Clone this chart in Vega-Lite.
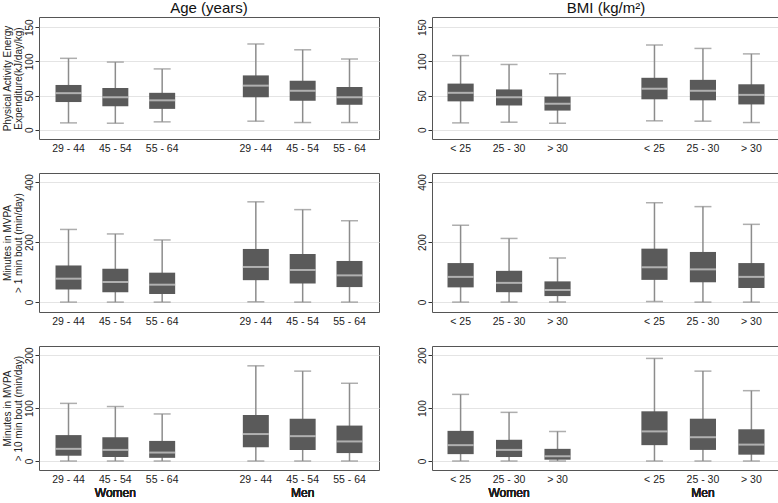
{
  "$schema": "https://vega.github.io/schema/vega-lite/v6.json",
  "background": "white",
  "padding": {"left": 1, "top": 0, "right": 0, "bottom": 0},
  "config": {
    "font": "Liberation Sans",
    "view": {"stroke": "#555555", "strokeWidth": 1},
    "title": {"fontSize": 15, "fontWeight": "normal", "color": "#111111", "offset": 1},
    "axisY": {
      "labelAngle": 270, "labelAlign": "center", "labelBaseline": "bottom",
      "labelFontSize": 10, "labelColor": "#222222", "labelPadding": 1,
      "tickSize": 4, "tickColor": "#333333", "domain": false,
      "gridColor": "#e4e4e4", "gridWidth": 1,
      "titleFontSize": 10, "titleLineHeight": 11, "titleFontWeight": "normal", "titleColor": "#222222", "titlePadding": 1
    },
    "axisX": {"labelFontSize": 10.5, "labelColor": "#222222", "labelAngle": 0, "ticks": false, "domain": false, "labelPadding": 4, "title": null, "grid": false,
      "labelExpr": "indexof(datum.label, '|') > 0 ? slice(datum.label, indexof(datum.label, '|') + 1) : ''"}
  },
  "datasets": {
    "boxes": [
      {"measure": "PAEE", "factor": "Age", "sex": "Women", "group": "29 - 44", "lo": 10, "q1": 40.5, "med": 53.5, "q3": 65.5, "hi": 104.5},
      {"measure": "PAEE", "factor": "Age", "sex": "Women", "group": "45 - 54", "lo": 9.5, "q1": 34.5, "med": 47.5, "q3": 61, "hi": 99},
      {"measure": "PAEE", "factor": "Age", "sex": "Women", "group": "55 - 64", "lo": 11.5, "q1": 30.5, "med": 43, "q3": 54, "hi": 89},
      {"measure": "PAEE", "factor": "Age", "sex": "Men", "group": "29 - 44", "lo": 12.5, "q1": 47.5, "med": 64.5, "q3": 79.5, "hi": 125.5},
      {"measure": "PAEE", "factor": "Age", "sex": "Men", "group": "45 - 54", "lo": 10.5, "q1": 42.5, "med": 57, "q3": 71.5, "hi": 117},
      {"measure": "PAEE", "factor": "Age", "sex": "Men", "group": "55 - 64", "lo": 10.5, "q1": 36.5, "med": 47.5, "q3": 62.5, "hi": 103.5},
      {"measure": "PAEE", "factor": "BMI", "sex": "Women", "group": "< 25", "lo": 10, "q1": 41.5, "med": 54, "q3": 67.5, "hi": 108.5},
      {"measure": "PAEE", "factor": "BMI", "sex": "Women", "group": "25 - 30", "lo": 11, "q1": 35.5, "med": 47.5, "q3": 59, "hi": 95.5},
      {"measure": "PAEE", "factor": "BMI", "sex": "Women", "group": "> 30", "lo": 9.5, "q1": 28, "med": 38, "q3": 48.5, "hi": 82},
      {"measure": "PAEE", "factor": "BMI", "sex": "Men", "group": "< 25", "lo": 13, "q1": 44.5, "med": 60, "q3": 76, "hi": 124},
      {"measure": "PAEE", "factor": "BMI", "sex": "Men", "group": "25 - 30", "lo": 12.5, "q1": 43, "med": 57, "q3": 73, "hi": 119},
      {"measure": "PAEE", "factor": "BMI", "sex": "Men", "group": "> 30", "lo": 10.5, "q1": 37, "med": 51, "q3": 66.5, "hi": 111},
      {"measure": "MVPA1", "factor": "Age", "sex": "Women", "group": "29 - 44", "lo": 0, "q1": 42, "med": 78, "q3": 122, "hi": 242},
      {"measure": "MVPA1", "factor": "Age", "sex": "Women", "group": "45 - 54", "lo": 0, "q1": 33, "med": 67, "q3": 111, "hi": 227},
      {"measure": "MVPA1", "factor": "Age", "sex": "Women", "group": "55 - 64", "lo": 0, "q1": 27, "med": 58, "q3": 98, "hi": 207},
      {"measure": "MVPA1", "factor": "Age", "sex": "Men", "group": "29 - 44", "lo": 1, "q1": 73, "med": 117, "q3": 177, "hi": 334},
      {"measure": "MVPA1", "factor": "Age", "sex": "Men", "group": "45 - 54", "lo": 0, "q1": 62, "med": 107, "q3": 160, "hi": 308},
      {"measure": "MVPA1", "factor": "Age", "sex": "Men", "group": "55 - 64", "lo": 0, "q1": 50, "med": 89, "q3": 137, "hi": 271},
      {"measure": "MVPA1", "factor": "BMI", "sex": "Women", "group": "< 25", "lo": 0, "q1": 49, "med": 84, "q3": 130, "hi": 256},
      {"measure": "MVPA1", "factor": "BMI", "sex": "Women", "group": "25 - 30", "lo": 0, "q1": 33, "med": 64, "q3": 104, "hi": 212},
      {"measure": "MVPA1", "factor": "BMI", "sex": "Women", "group": "> 30", "lo": 0, "q1": 20, "med": 40, "q3": 69, "hi": 147},
      {"measure": "MVPA1", "factor": "BMI", "sex": "Men", "group": "< 25", "lo": 2, "q1": 74, "med": 116, "q3": 178, "hi": 331},
      {"measure": "MVPA1", "factor": "BMI", "sex": "Men", "group": "25 - 30", "lo": 0, "q1": 66, "med": 109, "q3": 167, "hi": 318},
      {"measure": "MVPA1", "factor": "BMI", "sex": "Men", "group": "> 30", "lo": 0, "q1": 47, "med": 84, "q3": 130, "hi": 259},
      {"measure": "MVPA10", "factor": "Age", "sex": "Women", "group": "29 - 44", "lo": 0, "q1": 10, "med": 23, "q3": 49, "hi": 109},
      {"measure": "MVPA10", "factor": "Age", "sex": "Women", "group": "45 - 54", "lo": 0, "q1": 7.5, "med": 21, "q3": 45, "hi": 103},
      {"measure": "MVPA10", "factor": "Age", "sex": "Women", "group": "55 - 64", "lo": 0, "q1": 6, "med": 16, "q3": 38, "hi": 89},
      {"measure": "MVPA10", "factor": "Age", "sex": "Men", "group": "29 - 44", "lo": 0, "q1": 26, "med": 51, "q3": 87, "hi": 180},
      {"measure": "MVPA10", "factor": "Age", "sex": "Men", "group": "45 - 54", "lo": 0, "q1": 21, "med": 47, "q3": 80, "hi": 170},
      {"measure": "MVPA10", "factor": "Age", "sex": "Men", "group": "55 - 64", "lo": 0, "q1": 15, "med": 37, "q3": 67, "hi": 147},
      {"measure": "MVPA10", "factor": "BMI", "sex": "Women", "group": "< 25", "lo": 0, "q1": 13, "med": 30, "q3": 57, "hi": 126},
      {"measure": "MVPA10", "factor": "BMI", "sex": "Women", "group": "25 - 30", "lo": 0, "q1": 7.5, "med": 21, "q3": 40, "hi": 92},
      {"measure": "MVPA10", "factor": "BMI", "sex": "Women", "group": "> 30", "lo": 0, "q1": 2.5, "med": 9, "q3": 23, "hi": 56},
      {"measure": "MVPA10", "factor": "BMI", "sex": "Men", "group": "< 25", "lo": 0, "q1": 30, "med": 56, "q3": 94, "hi": 194},
      {"measure": "MVPA10", "factor": "BMI", "sex": "Men", "group": "25 - 30", "lo": 0, "q1": 21, "med": 45, "q3": 80, "hi": 170},
      {"measure": "MVPA10", "factor": "BMI", "sex": "Men", "group": "> 30", "lo": 0, "q1": 12, "med": 31, "q3": 60, "hi": 133}
    ]
  },
  "spacing": 18,
  "vconcat": [
    {
      "spacing": 36,
      "hconcat": [
        {
          "width": 340, "height": 122,
          "title": "Age (years)",
          "data": {"name": "boxes"},
          "transform": [{"filter": "datum.measure === 'PAEE' && datum.factor === 'Age'"}, {"calculate": "datum.sex + '|' + datum.group", "as": "slot"}],
          "encoding": {
            "x": {"field": "slot", "type": "nominal", "scale": {"type": "band", "domain": ["Women|29 - 44", "Women|45 - 54", "Women|55 - 64", "gap", "Men|29 - 44", "Men|45 - 54", "Men|55 - 64"], "paddingInner": 0, "paddingOuter": 0.13}}
          },
          "layer": [
            {"mark": {"type": "rule", "color": "#8c8c8c", "strokeWidth": 1.5}, "encoding": {"y": {"field": "lo", "type": "quantitative", "scale": {"domain": [-13.6, 165], "nice": false, "zero": false}, "axis": {"values": [0, 50, 100, 150], "title": ["Physical Activity Energy", "Expenditure(kJ/day/kg)"]}}, "y2": {"field": "hi"}}},
            {"mark": {"type": "tick", "color": "#8c8c8c", "size": 17, "thickness": 1.5}, "encoding": {"y": {"field": "lo", "type": "quantitative"}}},
            {"mark": {"type": "tick", "color": "#8c8c8c", "size": 17, "thickness": 1.5}, "encoding": {"y": {"field": "hi", "type": "quantitative"}}},
            {"mark": {"type": "bar", "color": "#5a5a5a", "width": {"band": 0.555}}, "encoding": {"y": {"field": "q1", "type": "quantitative"}, "y2": {"field": "q3"}}},
            {"mark": {"type": "tick", "color": "#d4d4d4", "size": 26, "thickness": 2}, "encoding": {"y": {"field": "med", "type": "quantitative"}}}
          ]
        },
        {
          "width": 348, "height": 122,
          "title": "BMI (kg/m²)",
          "data": {"name": "boxes"},
          "transform": [{"filter": "datum.measure === 'PAEE' && datum.factor === 'BMI'"}, {"calculate": "datum.sex + '|' + datum.group", "as": "slot"}],
          "encoding": {
            "x": {"field": "slot", "type": "nominal", "scale": {"type": "band", "domain": ["Women|< 25", "Women|25 - 30", "Women|> 30", "gap", "Men|< 25", "Men|25 - 30", "Men|> 30"], "paddingInner": 0, "paddingOuter": 0.09}}
          },
          "layer": [
            {"mark": {"type": "rule", "color": "#8c8c8c", "strokeWidth": 1.5}, "encoding": {"y": {"field": "lo", "type": "quantitative", "scale": {"domain": [-13.6, 165], "nice": false, "zero": false}, "axis": {"values": [0, 50, 100, 150], "title": null}}, "y2": {"field": "hi"}}},
            {"mark": {"type": "tick", "color": "#8c8c8c", "size": 17, "thickness": 1.5}, "encoding": {"y": {"field": "lo", "type": "quantitative"}}},
            {"mark": {"type": "tick", "color": "#8c8c8c", "size": 17, "thickness": 1.5}, "encoding": {"y": {"field": "hi", "type": "quantitative"}}},
            {"mark": {"type": "bar", "color": "#5a5a5a", "width": {"band": 0.54}}, "encoding": {"y": {"field": "q1", "type": "quantitative"}, "y2": {"field": "q3"}}},
            {"mark": {"type": "tick", "color": "#d4d4d4", "size": 26, "thickness": 2}, "encoding": {"y": {"field": "med", "type": "quantitative"}}}
          ]
        }
      ]
    },
    {
      "spacing": 36,
      "hconcat": [
        {
          "width": 340, "height": 139,
          "data": {"name": "boxes"},
          "transform": [{"filter": "datum.measure === 'MVPA1' && datum.factor === 'Age'"}, {"calculate": "datum.sex + '|' + datum.group", "as": "slot"}],
          "encoding": {
            "x": {"field": "slot", "type": "nominal", "scale": {"type": "band", "domain": ["Women|29 - 44", "Women|45 - 54", "Women|55 - 64", "gap", "Men|29 - 44", "Men|45 - 54", "Men|55 - 64"], "paddingInner": 0, "paddingOuter": 0.13}}
          },
          "layer": [
            {"mark": {"type": "rule", "color": "#8c8c8c", "strokeWidth": 1.5}, "encoding": {"y": {"field": "lo", "type": "quantitative", "scale": {"domain": [-33, 430], "nice": false, "zero": false}, "axis": {"values": [0, 100, 200, 300, 400], "title": ["Minutes in MVPA", "> 1 min bout (min/day)"]}}, "y2": {"field": "hi"}}},
            {"mark": {"type": "tick", "color": "#8c8c8c", "size": 17, "thickness": 1.5}, "encoding": {"y": {"field": "lo", "type": "quantitative"}}},
            {"mark": {"type": "tick", "color": "#8c8c8c", "size": 17, "thickness": 1.5}, "encoding": {"y": {"field": "hi", "type": "quantitative"}}},
            {"mark": {"type": "bar", "color": "#5a5a5a", "width": {"band": 0.555}}, "encoding": {"y": {"field": "q1", "type": "quantitative"}, "y2": {"field": "q3"}}},
            {"mark": {"type": "tick", "color": "#d4d4d4", "size": 26, "thickness": 2}, "encoding": {"y": {"field": "med", "type": "quantitative"}}}
          ]
        },
        {
          "width": 348, "height": 139,
          "data": {"name": "boxes"},
          "transform": [{"filter": "datum.measure === 'MVPA1' && datum.factor === 'BMI'"}, {"calculate": "datum.sex + '|' + datum.group", "as": "slot"}],
          "encoding": {
            "x": {"field": "slot", "type": "nominal", "scale": {"type": "band", "domain": ["Women|< 25", "Women|25 - 30", "Women|> 30", "gap", "Men|< 25", "Men|25 - 30", "Men|> 30"], "paddingInner": 0, "paddingOuter": 0.09}}
          },
          "layer": [
            {"mark": {"type": "rule", "color": "#8c8c8c", "strokeWidth": 1.5}, "encoding": {"y": {"field": "lo", "type": "quantitative", "scale": {"domain": [-33, 430], "nice": false, "zero": false}, "axis": {"values": [0, 100, 200, 300, 400], "title": null}}, "y2": {"field": "hi"}}},
            {"mark": {"type": "tick", "color": "#8c8c8c", "size": 17, "thickness": 1.5}, "encoding": {"y": {"field": "lo", "type": "quantitative"}}},
            {"mark": {"type": "tick", "color": "#8c8c8c", "size": 17, "thickness": 1.5}, "encoding": {"y": {"field": "hi", "type": "quantitative"}}},
            {"mark": {"type": "bar", "color": "#5a5a5a", "width": {"band": 0.54}}, "encoding": {"y": {"field": "q1", "type": "quantitative"}, "y2": {"field": "q3"}}},
            {"mark": {"type": "tick", "color": "#d4d4d4", "size": 26, "thickness": 2}, "encoding": {"y": {"field": "med", "type": "quantitative"}}}
          ]
        }
      ]
    },
    {
      "spacing": 36,
      "hconcat": [
        {
          "width": 340, "height": 124,
          "data": {"name": "boxes"},
          "transform": [{"filter": "datum.measure === 'MVPA10' && datum.factor === 'Age'"}, {"calculate": "datum.sex + '|' + datum.group", "as": "slot"}],
          "encoding": {
            "x": {"field": "slot", "type": "nominal", "scale": {"type": "band", "domain": ["Women|29 - 44", "Women|45 - 54", "Women|55 - 64", "gap", "Men|29 - 44", "Men|45 - 54", "Men|55 - 64"], "paddingInner": 0, "paddingOuter": 0.13}}
          },
          "layer": [
            {"mark": {"type": "rule", "color": "#8c8c8c", "strokeWidth": 1.5}, "encoding": {"y": {"field": "lo", "type": "quantitative", "scale": {"domain": [-17, 217.5], "nice": false, "zero": false}, "axis": {"values": [0, 50, 100, 150, 200], "title": ["Minutes in MVPA", "> 10 min bout (min/day)"]}}, "y2": {"field": "hi"}}},
            {"mark": {"type": "tick", "color": "#8c8c8c", "size": 17, "thickness": 1.5}, "encoding": {"y": {"field": "lo", "type": "quantitative"}}},
            {"mark": {"type": "tick", "color": "#8c8c8c", "size": 17, "thickness": 1.5}, "encoding": {"y": {"field": "hi", "type": "quantitative"}}},
            {"mark": {"type": "bar", "color": "#5a5a5a", "width": {"band": 0.555}}, "encoding": {"y": {"field": "q1", "type": "quantitative"}, "y2": {"field": "q3"}}},
            {"mark": {"type": "tick", "color": "#d4d4d4", "size": 26, "thickness": 2}, "encoding": {"y": {"field": "med", "type": "quantitative"}}},
            {"mark": {"type": "text", "baseline": "top", "dy": 18, "fontSize": 12, "fontWeight": "normal", "color": "#222222"}, "encoding": {"x": {"datum": "Women|45 - 54"}, "y": {"value": "height"}, "text": {"value": "Women"}}},
            {"mark": {"type": "text", "baseline": "top", "dy": 18, "fontSize": 12, "fontWeight": "normal", "color": "#222222"}, "encoding": {"x": {"datum": "Men|45 - 54"}, "y": {"value": "height"}, "text": {"value": "Men"}}}
          ]
        },
        {
          "width": 348, "height": 124,
          "data": {"name": "boxes"},
          "transform": [{"filter": "datum.measure === 'MVPA10' && datum.factor === 'BMI'"}, {"calculate": "datum.sex + '|' + datum.group", "as": "slot"}],
          "encoding": {
            "x": {"field": "slot", "type": "nominal", "scale": {"type": "band", "domain": ["Women|< 25", "Women|25 - 30", "Women|> 30", "gap", "Men|< 25", "Men|25 - 30", "Men|> 30"], "paddingInner": 0, "paddingOuter": 0.09}}
          },
          "layer": [
            {"mark": {"type": "rule", "color": "#8c8c8c", "strokeWidth": 1.5}, "encoding": {"y": {"field": "lo", "type": "quantitative", "scale": {"domain": [-17, 217.5], "nice": false, "zero": false}, "axis": {"values": [0, 50, 100, 150, 200], "title": null}}, "y2": {"field": "hi"}}},
            {"mark": {"type": "tick", "color": "#8c8c8c", "size": 17, "thickness": 1.5}, "encoding": {"y": {"field": "lo", "type": "quantitative"}}},
            {"mark": {"type": "tick", "color": "#8c8c8c", "size": 17, "thickness": 1.5}, "encoding": {"y": {"field": "hi", "type": "quantitative"}}},
            {"mark": {"type": "bar", "color": "#5a5a5a", "width": {"band": 0.54}}, "encoding": {"y": {"field": "q1", "type": "quantitative"}, "y2": {"field": "q3"}}},
            {"mark": {"type": "tick", "color": "#d4d4d4", "size": 26, "thickness": 2}, "encoding": {"y": {"field": "med", "type": "quantitative"}}},
            {"mark": {"type": "text", "baseline": "top", "dy": 18, "fontSize": 12, "fontWeight": "normal", "color": "#222222"}, "encoding": {"x": {"datum": "Women|25 - 30"}, "y": {"value": "height"}, "text": {"value": "Women"}}},
            {"mark": {"type": "text", "baseline": "top", "dy": 18, "fontSize": 12, "fontWeight": "normal", "color": "#222222"}, "encoding": {"x": {"datum": "Men|25 - 30"}, "y": {"value": "height"}, "text": {"value": "Men"}}}
          ]
        }
      ]
    }
  ]
}
